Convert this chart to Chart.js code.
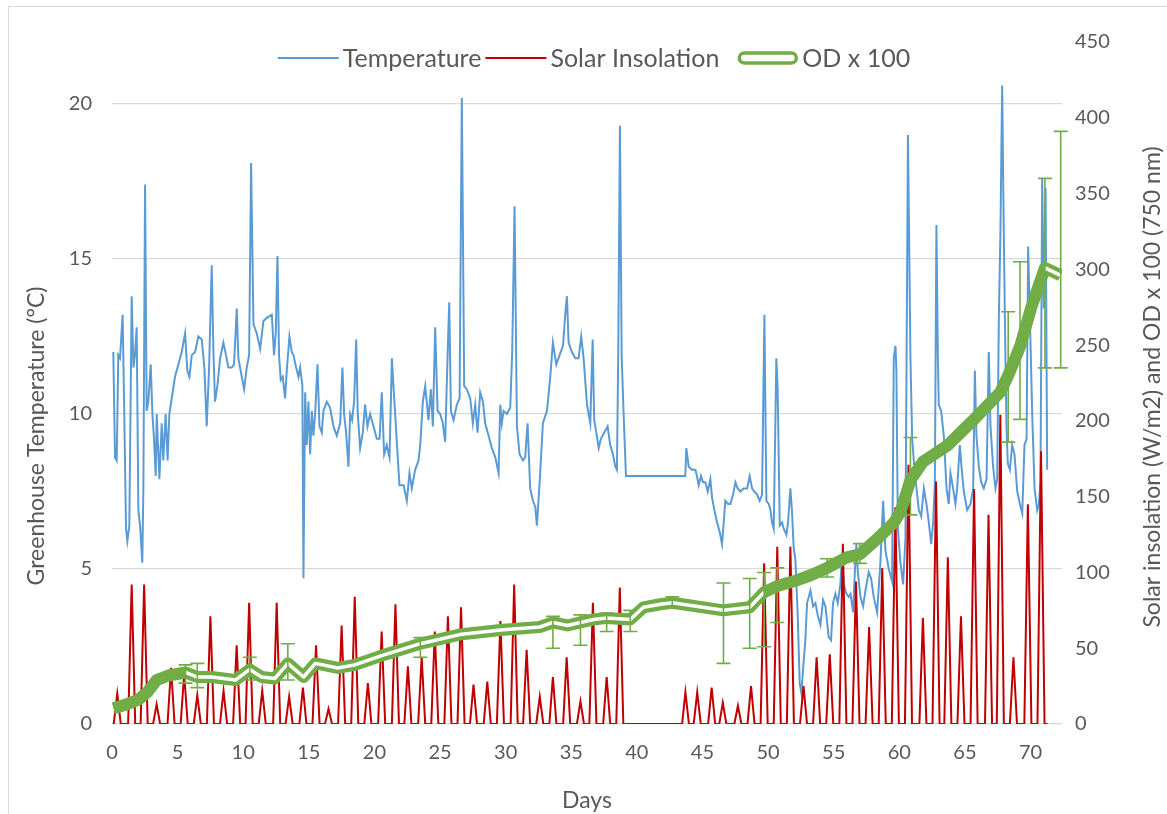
<!DOCTYPE html>
<html>
<head>
<meta charset="utf-8">
<script src="https://cdn.jsdelivr.net/npm/chart.js@4.4.1/dist/chart.umd.min.js"></script>
<style>
  html, body { margin: 0; padding: 0; background: #fff; overflow: hidden; }
  #wrap { position: relative; width: 1167px; height: 814px; }
  #frame { position: absolute; left: 8px; top: 6px; width: 1170px; height: 820px; border: 1px solid #d9d9d9; pointer-events: none; }
  canvas { display: block; }
</style>
</head>
<body>
<div id="wrap"><canvas id="c" width="1167" height="814"></canvas><div id="frame"></div></div>
<script>
// ---- data ----
const xTicks = [0, 5, 10, 15, 20, 25, 30, 35, 40, 45, 50, 55, 60, 65, 70];
const leftTicks = [0, 5, 10, 15, 20];
const rightTicks = [0, 50, 100, 150, 200, 250, 300, 350, 400, 450];

const tempDays = [
  0.10, 0.23, 0.36, 0.48, 0.61, 0.81, 0.92, 1.07, 1.17, 1.32, 1.50, 1.63, 1.75, 1.88, 2.01, 2.14, 2.31, 2.39, 2.52, 2.64,
  2.77, 2.95, 3.08, 3.20, 3.33, 3.41, 3.61, 3.79, 3.91, 4.09, 4.24, 4.37, 4.55, 4.80, 5.06, 5.31, 5.57, 5.74, 5.90, 6.08,
  6.33, 6.58, 6.84, 7.04, 7.22, 7.40, 7.60, 7.73, 7.85, 8.03, 8.24, 8.49, 8.69, 8.87, 9.13, 9.30, 9.51, 9.63, 9.89, 10.07,
  10.27, 10.45, 10.60, 10.78, 11.03, 11.29, 11.54, 11.79, 12.18, 12.35, 12.48, 12.61, 12.73, 12.86, 13.01, 13.19, 13.32, 13.52, 13.70, 13.83,
  14.03, 14.21, 14.34, 14.51, 14.59, 14.72, 14.84, 14.97, 15.10, 15.23, 15.35, 15.48, 15.66, 15.81, 15.99, 16.11, 16.37, 16.62, 16.88, 17.13,
  17.39, 17.56, 17.69, 17.84, 18.02, 18.15, 18.30, 18.45, 18.61, 18.73, 18.91, 19.11, 19.29, 19.47, 19.67, 19.93, 20.18, 20.39, 20.56, 20.74,
  20.94, 21.15, 21.33, 21.45, 21.58, 21.76, 21.91, 22.22, 22.47, 22.67, 22.85, 23.10, 23.36, 23.49, 23.69, 23.87, 24.12, 24.30, 24.45, 24.63,
  24.81, 25.01, 25.21, 25.39, 25.57, 25.70, 25.83, 26.03, 26.28, 26.49, 26.66, 26.84, 27.04, 27.30, 27.50, 27.68, 27.86, 28.06, 28.27, 28.44,
  28.70, 28.95, 29.21, 29.46, 29.59, 29.71, 29.84, 30.10, 30.35, 30.50, 30.68, 30.86, 31.06, 31.32, 31.49, 31.67, 31.87, 32.08, 32.26, 32.38,
  32.59, 32.84, 33.15, 33.40, 33.60, 33.86, 34.11, 34.37, 34.54, 34.67, 34.80, 35.05, 35.31, 35.56, 35.76, 35.94, 36.20, 36.45, 36.63, 36.75,
  36.91, 37.09, 37.26, 37.52, 37.77, 37.97, 38.18, 38.36, 38.48, 38.58, 38.71, 38.84, 38.99, 39.17, 43.69, 43.77, 43.95, 44.20, 44.46, 44.58,
  44.71, 44.89, 45.04, 45.22, 45.40, 45.60, 45.73, 45.91, 46.11, 46.31, 46.49, 46.62, 46.74, 46.95, 47.13, 47.33, 47.51, 47.68, 47.89, 48.14,
  48.40, 48.60, 48.78, 48.95, 49.16, 49.36, 49.54, 49.72, 49.87, 50.05, 50.18, 50.30, 50.43, 50.63, 50.73, 50.89, 51.07, 51.19, 51.40, 51.52,
  51.70, 51.83, 51.95, 52.08, 52.26, 52.41, 52.54, 52.67, 52.84, 52.97, 53.10, 53.23, 53.43, 53.61, 53.79, 53.99, 54.19, 54.37, 54.62, 54.80,
  54.95, 55.13, 55.31, 55.51, 55.64, 55.77, 55.97, 56.15, 56.28, 56.48, 56.61, 56.73, 56.84, 57.04, 57.24, 57.42, 57.67, 57.85, 58.05, 58.31,
  58.56, 58.77, 58.94, 59.20, 59.45, 59.58, 59.71, 59.78, 59.89, 60.09, 60.29, 60.47, 60.66, 60.85, 60.98, 61.16, 61.31, 61.49, 61.67, 61.87,
  62.07, 62.25, 62.43, 62.58, 62.71, 62.83, 62.94, 63.01, 63.19, 63.39, 63.60, 63.77, 63.90, 64.10, 64.28, 64.41, 64.61, 64.74, 64.92, 65.17,
  65.43, 65.63, 65.76, 65.88, 66.06, 66.24, 66.44, 66.65, 66.82, 66.95, 67.15, 67.33, 67.46, 67.59, 67.71, 67.84, 67.97, 68.09, 68.17, 68.27,
  68.43, 68.60, 68.78, 68.99, 69.19, 69.37, 69.54, 69.70, 69.82, 70.00, 70.13, 70.31, 70.51, 70.64, 70.76, 70.89, 71.02, 71.15, 71.27
];
const tempValues = [
  12.0, 8.6, 8.5, 11.9, 11.8, 13.2, 10.4, 6.3, 5.9, 6.4, 13.8, 11.5, 11.9, 12.8, 6.9, 6.4, 5.2, 7.6, 17.4, 10.1,
  10.4, 11.6, 10.0, 9.2, 8.0, 10.0, 7.9, 9.7, 8.5, 10.0, 8.5, 10.0, 10.5, 11.2, 11.6, 12.0, 12.6, 11.4, 11.2, 11.9,
  12.0, 12.5, 12.4, 11.5, 9.6, 11.5, 14.8, 12.0, 10.4, 10.9, 11.8, 12.3, 11.9, 11.5, 11.5, 11.6, 13.4, 11.8, 11.2, 10.8,
  11.5, 11.9, 18.1, 12.9, 12.6, 12.1, 13.0, 13.1, 13.2, 11.9, 12.6, 15.1, 11.9, 11.1, 11.2, 10.5, 11.4, 12.5, 12.0, 11.9,
  11.5, 11.2, 11.5, 10.9, 4.7, 10.7, 9.0, 10.4, 8.7, 10.1, 9.3, 10.0, 11.6, 9.6, 9.4, 10.1, 10.4, 10.2, 9.6, 9.3,
  9.7, 11.5, 10.0, 9.4, 8.3, 10.0, 9.8, 10.4, 12.4, 10.0, 8.9, 9.4, 10.3, 9.6, 10.0, 9.6, 9.2, 9.2, 10.7, 8.7,
  9.0, 8.6, 11.8, 10.9, 10.0, 8.7, 7.7, 7.7, 7.2, 8.1, 7.6, 8.2, 8.5, 9.0, 10.4, 10.9, 9.8, 10.8, 9.6, 12.8,
  10.1, 10.0, 9.7, 9.1, 11.8, 13.6, 10.1, 9.8, 10.3, 10.5, 20.2, 10.9, 10.8, 10.5, 9.7, 10.3, 9.4, 10.7, 10.4, 9.7,
  9.3, 8.9, 8.6, 8.1, 10.3, 9.7, 10.1, 10.0, 10.2, 12.0, 16.7, 9.6, 8.7, 8.5, 8.6, 9.7, 7.6, 7.2, 7.0, 6.4,
  7.8, 9.7, 10.1, 11.2, 12.3, 11.6, 11.9, 12.2, 13.2, 13.8, 12.3, 12.0, 11.8, 11.8, 12.5, 11.8, 10.3, 9.7, 12.4, 9.8,
  9.4, 8.9, 9.2, 9.4, 9.6, 9.0, 8.7, 8.3, 8.2, 11.9, 19.3, 11.9, 10.0, 8.0, 8.0, 8.9, 8.3, 8.2, 8.2, 8.0,
  7.7, 8.0, 7.8, 7.8, 7.5, 7.9, 7.3, 6.9, 6.5, 6.2, 5.8, 6.5, 7.2, 7.1, 7.1, 7.4, 7.8, 7.6, 7.5, 7.6,
  7.6, 8.0, 7.6, 7.5, 7.4, 7.2, 7.4, 13.2, 7.2, 7.1, 6.9, 6.5, 6.3, 11.8, 10.8, 6.4, 6.5, 6.3, 6.1, 6.5,
  7.6, 6.8, 5.7, 5.3, 3.5, 1.3, 1.0, 1.8, 2.7, 3.9, 4.1, 4.3, 3.8, 3.9, 3.5, 3.2, 4.0, 3.8, 2.8, 2.7,
  3.9, 4.2, 3.9, 4.5, 5.5, 4.5, 4.2, 4.1, 4.2, 3.6, 4.9, 5.8, 4.9, 4.1, 3.8, 4.3, 4.9, 4.7, 4.1, 3.6,
  5.2, 7.2, 5.6, 5.0, 4.6, 11.8, 12.2, 11.4, 6.3, 5.2, 4.5, 6.0, 19.0, 11.8, 9.2, 8.2, 7.6, 6.9, 6.7, 7.6,
  7.1, 6.5, 5.8, 6.5, 7.8, 16.1, 11.8, 10.3, 10.1, 9.3, 7.6, 7.1, 8.1, 7.6, 7.1, 7.6, 9.0, 8.3, 7.5, 6.9,
  7.1, 7.6, 11.4, 9.3, 8.3, 7.8, 7.6, 7.9, 12.0, 9.6, 8.3, 7.6, 7.9, 13.2, 15.9, 20.6, 15.6, 11.8, 9.6, 8.4,
  8.2, 9.0, 8.7, 7.5, 7.1, 6.8, 9.0, 9.2, 15.4, 12.3, 10.0, 7.6, 6.9, 7.1, 7.8, 17.6, 13.4, 17.3, 8.2
];

const solarDays = [
  0.05, 0.13, 0.40, 0.67, 1.23, 1.50, 1.77, 2.18, 2.45, 2.72, 3.13, 3.40, 3.67, 4.23, 4.50, 4.77, 5.23, 5.50, 5.77,
  6.23, 6.50, 6.77, 7.23, 7.50, 7.77, 8.23, 8.50, 8.77, 9.23, 9.50, 9.77, 10.18, 10.45, 10.72, 11.18, 11.45, 11.72,
  12.28, 12.55, 12.82, 13.23, 13.50, 13.77, 14.28, 14.55, 14.82, 15.28, 15.55, 15.82, 16.23, 16.50, 16.77, 17.23, 17.50, 17.77,
  18.23, 18.50, 18.77, 19.23, 19.50, 19.77, 20.28, 20.55, 20.82, 21.33, 21.60, 21.87, 22.28, 22.55, 22.82, 23.33, 23.60, 23.87,
  24.33, 24.60, 24.87, 25.33, 25.60, 25.87, 26.33, 26.60, 26.87, 27.28, 27.55, 27.82, 28.33, 28.60, 28.87, 29.33, 29.60, 29.87,
  30.38, 30.65, 30.92, 31.33, 31.60, 31.87, 32.33, 32.60, 32.87, 33.33, 33.60, 33.87, 34.38, 34.65, 34.92, 35.43, 35.70, 35.97,
  36.38, 36.65, 36.92, 37.43, 37.70, 37.97, 38.43, 38.70, 38.97, 43.45, 43.70, 43.97, 44.33, 44.60, 44.87, 45.43, 45.70, 45.97,
  46.28, 46.55, 46.82, 47.43, 47.70, 47.97, 48.43, 48.70, 48.97, 49.43, 49.70, 49.97, 50.43, 50.70, 50.97, 51.43, 51.70, 51.97,
  52.43, 52.70, 52.97, 53.43, 53.70, 53.97, 54.43, 54.70, 54.97, 55.43, 55.70, 55.97, 56.43, 56.70, 56.97, 57.43, 57.70, 57.97,
  58.43, 58.70, 58.97, 59.43, 59.70, 59.97, 60.43, 60.70, 60.97, 61.53, 61.80, 62.07, 62.53, 62.80, 63.07, 63.43, 63.70, 63.97,
  64.43, 64.70, 64.97, 65.43, 65.70, 65.97, 66.53, 66.80, 67.07, 67.43, 67.70, 67.97, 68.43, 68.70, 68.97, 69.53, 69.80, 70.07,
  70.53, 70.80, 71.07, 71.30
];
const solarValues = [
  0, 0, 20, 0, 0, 92, 0, 0, 92, 0, 0, 13, 0, 0, 37, 0, 0, 33, 0,
  0, 19, 0, 0, 71, 0, 0, 22, 0, 0, 52, 0, 0, 80, 0, 0, 22, 0,
  0, 80, 0, 0, 18, 0, 0, 24, 0, 0, 52, 0, 0, 10, 0, 0, 65, 0,
  0, 84, 0, 0, 27, 0, 0, 61, 0, 0, 79, 0, 0, 38, 0, 0, 44, 0,
  0, 61, 0, 0, 71, 0, 0, 77, 0, 0, 26, 0, 0, 28, 0, 0, 68, 0,
  0, 92, 0, 0, 49, 0, 0, 18, 0, 0, 31, 0, 0, 44, 0, 0, 15, 0,
  0, 80, 0, 0, 31, 0, 0, 90, 0, 0, 21, 0, 0, 21, 0, 0, 24, 0,
  0, 14, 0, 0, 12, 0, 0, 25, 0, 0, 106, 0, 0, 117, 0, 0, 117, 0,
  0, 25, 0, 0, 44, 0, 0, 46, 0, 0, 119, 0, 0, 94, 0, 0, 64, 0,
  0, 103, 0, 0, 143, 0, 0, 171, 0, 0, 70, 0, 0, 160, 0, 0, 110, 0,
  0, 71, 0, 0, 155, 0, 0, 138, 0, 0, 204, 0, 0, 44, 0, 0, 145, 0,
  0, 180, 0, 0
];

const odDays = [
  0.1, 1.0, 2.0, 2.7, 3.4, 4.3, 5.6, 6.5, 7.6, 9.4, 10.5, 11.4, 12.4, 13.4, 14.6, 15.5, 17.2, 18.5,
  20.5, 23.5, 26.5, 29.6, 32.6, 33.6, 34.7, 35.7, 36.7, 37.7, 39.5, 40.5, 41.8, 42.7, 46.6, 48.6,
  49.7, 50.7, 51.9, 53.2, 54.5, 56.0, 57.0, 58.3, 59.6, 60.1, 60.85, 61.8, 63.7, 65.7, 67.7, 68.3,
  69.2, 70.1, 71.1, 72.3
];
const odValues = [
  10.5, 12.6, 16, 21, 29, 32, 34, 31, 31, 29, 36, 31, 30, 40, 31, 40, 37, 39,
  45, 53, 59, 62, 64, 67, 65, 67, 69, 70, 69, 77, 79, 80, 75, 77,
  87, 91, 94, 98, 103, 110, 112, 122, 133, 140, 161, 173, 184, 201, 219, 230,
  249, 276, 301, 296
];
// error bar ends for each OD point (null = no bar)
const odErrLow = [
  null, null, null, null, null, null, 27, 24, null, null, 29, null, null, 29, null, null, null, null,
  null, 44, null, null, null, 50, null, 52, null, 61, 61, null, null, 77, 40, 50,
  51, 67, null, null, 97, null, 106, null, null, null, 138, null, null, null, null, 186,
  201, null, 235, 235
];
const odErrHigh = [
  null, null, null, null, null, null, 39, 40, null, null, 44, null, null, 53, null, null, null, null,
  null, 57, null, null, null, 71, null, 72, null, 73, 75, null, null, 84, 93, 96,
  100, 103, null, null, 109, null, 119, null, null, null, 189, null, null, null, null, 272,
  305, null, 360, 391
];

// ---- styling ----
const FONT = 'Lato, "Open Sans", sans-serif';
const TEXT = '#595959';
const BLUE = '#5B9BD5';
const RED = '#C00000';
const GREEN = '#70AD47';
const GRID = '#d9d9d9';
const TICK_SIZE = 20;
const TITLE_SIZE = 23;
const LEGEND_SIZE = 25;

const pts = (xs, ys) => xs.map((x, i) => ({ x, y: ys[i] }));

// OD line is drawn as a double line (white core) over these day ranges
const doubleRanges = [[5.5, 49.8], [71.0, 72.4]];
const inDouble = (a, b) => doubleRanges.some(([lo, hi]) => a >= lo && b <= hi);

// legend across the top of the plot
const topLegend = {
  id: 'topLegend',
  afterDraw(chart) {
    const { ctx } = chart;
    const items = chart.data.datasets.filter(d => !d.hideLegend);
    ctx.save();
    ctx.font = `${LEGEND_SIZE}px ${FONT}`;
    ctx.textBaseline = 'middle';
    ctx.textAlign = 'left';
    const symW = 61, gapText = 4, gapItem = 4, inset = 14;
    const lead = items.map(d => (d.legendKind === 'double' ? inset : 0));
    const widths = items.map((d, i) => lead[i] + symW + gapText + ctx.measureText(d.label).width);
    const total = widths.reduce((a, b) => a + b, 0) + gapItem * (items.length - 1);
    let x = 594 - total / 2;
    const y = 58;
    items.forEach((d, i) => {
      const sx = x + lead[i];
      if (d.legendKind === 'double') {
        const h = 10, r = 5;
        ctx.beginPath();
        ctx.roundRect(sx + 2, y - h / 2, symW - 4, h, r);
        ctx.fillStyle = '#fff';
        ctx.fill();
        ctx.lineWidth = 3.5;
        ctx.strokeStyle = d.borderColor;
        ctx.stroke();
      } else {
        ctx.beginPath();
        ctx.moveTo(sx, y);
        ctx.lineTo(sx + symW, y);
        ctx.lineWidth = 2;
        ctx.strokeStyle = d.borderColor;
        ctx.stroke();
      }
      ctx.fillStyle = TEXT;
      ctx.fillText(d.label, sx + symW + gapText, y + 1);
      x += widths[i] + gapItem;
    });
    ctx.restore();
  }
};

// vertical axis titles, both reading bottom-to-top
const sideTitles = {
  id: 'sideTitles',
  afterDraw(chart) {
    const { ctx } = chart;
    const put = (text, x, y) => {
      ctx.save();
      ctx.translate(x, y);
      ctx.rotate(-Math.PI / 2);
      ctx.fillText(text, 0, 0);
      ctx.restore();
    };
    ctx.save();
    ctx.font = `${TITLE_SIZE}px ${FONT}`;
    ctx.fillStyle = TEXT;
    ctx.textAlign = 'center';
    ctx.textBaseline = 'middle';
    put('Greenhouse Temperature (°C)', 37, 436);
    put('Solar insolation (W/m2) and OD x 100 (750 nm)', 1153, 387);
    ctx.restore();
  }
};

// error bars on the OD series
const odErrorBars = {
  id: 'odErrorBars',
  afterDatasetsDraw(chart) {
    const { ctx, chartArea } = chart;
    const xs = chart.scales.x, ys = chart.scales.y2;
    ctx.save();
    ctx.beginPath();
    ctx.rect(chartArea.left, chartArea.top, chartArea.right - chartArea.left + 20, chartArea.bottom - chartArea.top);
    ctx.clip();
    ctx.strokeStyle = GREEN;
    ctx.lineWidth = 1.6;
    const cap = 7;
    odDays.forEach((d, i) => {
      if (odErrLow[i] == null) return;
      const x = xs.getPixelForValue(d);
      const y1 = ys.getPixelForValue(odErrLow[i]);
      const y2 = ys.getPixelForValue(odErrHigh[i]);
      ctx.beginPath();
      ctx.moveTo(x, y1); ctx.lineTo(x, y2);
      ctx.moveTo(x - cap, y1); ctx.lineTo(x + cap, y1);
      ctx.moveTo(x - cap, y2); ctx.lineTo(x + cap, y2);
      ctx.stroke();
    });
    ctx.restore();
  }
};

const keepTicks = list => scale => {
  scale.ticks = list.map(v => ({ value: v }));
};

new Chart(document.getElementById('c'), {
  type: 'line',
  data: {
    datasets: [
      {
        label: 'Temperature', data: pts(tempDays, tempValues), yAxisID: 'y',
        borderColor: BLUE, borderWidth: 2, pointRadius: 0, tension: 0, order: 4
      },
      {
        label: 'Solar Insolation', data: pts(solarDays, solarValues), yAxisID: 'y2',
        borderColor: RED, borderWidth: 2, pointRadius: 0, tension: 0, order: 3
      },
      {
        label: 'OD x 100', data: pts(odDays, odValues), yAxisID: 'y2', legendKind: 'double',
        borderColor: GREEN, borderWidth: 12, pointRadius: 0, tension: 0,
        borderJoinStyle: 'round', borderCapStyle: 'butt', order: 2
      },
      {
        label: 'OD core', hideLegend: true, data: pts(odDays, odValues), yAxisID: 'y2',
        borderColor: '#fff', borderWidth: 3.5, pointRadius: 0, tension: 0, borderJoinStyle: 'round',
        segment: { borderColor: c => inDouble(c.p0.parsed.x, c.p1.parsed.x) ? '#fff' : 'rgba(0,0,0,0)' },
        order: 1
      }
    ]
  },
  options: {
    responsive: false,
    animation: false,
    events: [],
    layout: { padding: { top: 42, left: 0, right: 0, bottom: 0 } },
    plugins: { legend: { display: false }, tooltip: { enabled: false } },
    scales: {
      x: {
        type: 'linear', min: 0, max: 72.4,
        afterBuildTicks: keepTicks(xTicks),
        afterFit: s => { s.height = 90; },
        grid: { display: false, drawTicks: false },
        border: { display: false },
        ticks: { color: TEXT, font: { family: FONT, size: TICK_SIZE }, padding: 17, maxRotation: 0, autoSkip: false },
        title: { display: true, text: 'Days', color: TEXT, font: { family: FONT, size: TITLE_SIZE }, padding: { top: 0, bottom: 0 } }
      },
      y: {
        position: 'left', min: 0, max: 22,
        afterBuildTicks: keepTicks(leftTicks),
        afterFit: s => { s.width = 112; },
        grid: { color: GRID, lineWidth: 1.3, drawTicks: false },
        border: { display: false },
        ticks: { color: TEXT, font: { family: FONT, size: TICK_SIZE }, padding: 20 }
      },
      y2: {
        position: 'right', min: 0, max: 450,
        afterBuildTicks: keepTicks(rightTicks),
        afterFit: s => { s.width = 105; },
        grid: { display: false, drawTicks: false },
        border: { display: false },
        ticks: { color: TEXT, font: { family: FONT, size: TICK_SIZE }, padding: 13 }
      }
    }
  },
  plugins: [odErrorBars, topLegend, sideTitles]
});
</script>
</body>
</html>
